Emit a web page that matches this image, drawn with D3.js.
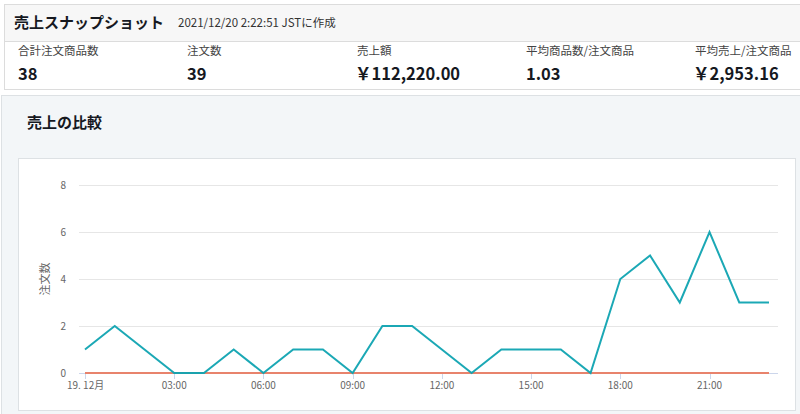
<!DOCTYPE html>
<html><head><meta charset="utf-8">
<script src="https://cdn.jsdelivr.net/npm/d3@7"></script>
<style>
body{margin:0;background:#fff;font-family:"Noto Sans CJK JP","Noto Sans",sans-serif;}
svg{display:block}
</style></head><body>
<svg id="c" width="800" height="414"></svg>
<script>
const title = "売上スナップショット";
const subtitle = "2021/12/20 2:22:51 JSTに作成";
const statLabels = ["合計注文商品数","注文数","売上額","平均商品数/注文商品","平均売上/注文商品"];
const statValues = ["38","39","￥112,220.00","1.03","￥2,953.16"];
const chartTitle = "売上の比較";
const yAxisTitle = "注文数";
const hours = d3.range(0,24);
const ordersToday = [1,2,1,0,0,1,0,1,1,0,2,2,1,0,1,1,1,0,4,5,3,6,3,3];
const ordersCompare = [0,0,0,0,0,0,0,0,0,0,0,0,0,0,0,0,0,0,0,0,0,0,0,0];
const yTicks = [0,2,4,6,8];
const xTickHours = [0,3,6,9,12,15,18,21];
const xTickLabels = ["19. 12月","03:00","06:00","09:00","12:00","15:00","18:00","21:00"];

const svg = d3.select("#c");
// top card
svg.append("rect").attr("x",4.5).attr("y",4.5).attr("width",800).attr("height",85).attr("fill","#fff").attr("stroke","#dcdcdc");
svg.append("rect").attr("x",5).attr("y",5).attr("width",800).attr("height",36).attr("fill","#f7f7f7");
svg.append("line").attr("x1",5).attr("x2",800).attr("y1",41.5).attr("y2",41.5).attr("stroke","#dcdcdc");
svg.append("text").attr("x",14).attr("y",28).attr("font-size",15).attr("font-weight","bold").attr("fill","#16191f").text(title);
svg.append("text").attr("x",178).attr("y",27).attr("font-size",11.5).attr("fill","#333").text(subtitle);
const colX = [18,187,357,526,695];
statLabels.forEach((l,i)=>{
  svg.append("text").attr("x",colX[i]).attr("y",55).attr("font-size",11.5).attr("fill","#444").text(l);
  svg.append("text").attr("x",colX[i] + (statValues[i].startsWith("￥")?-2:0)).attr("y",80).attr("font-size",16.5).attr("font-weight","bold").attr("fill","#16191f").text(statValues[i]);
});
// second panel
svg.append("rect").attr("x",1.5).attr("y",95.5).attr("width",800).attr("height",330).attr("fill","#f3f6f8").attr("stroke","#dde1e4");
svg.append("text").attr("x",27).attr("y",128).attr("font-size",15).attr("font-weight","bold").attr("fill","#16191f").text(chartTitle);
svg.append("rect").attr("x",18.5).attr("y",158.5).attr("width",777).attr("height",252).attr("fill","#fff").attr("stroke","#dde1e4");

const x = d3.scaleLinear().domain([0,23]).range([85,769]);
const y = d3.scaleLinear().domain([0,8]).range([373,185]);

// gridlines
svg.append("g").selectAll("line").data(yTicks).join("line")
  .attr("x1",79).attr("x2",778).attr("y1",d=>Math.round(y(d))+0.5).attr("y2",d=>Math.round(y(d))+0.5)
  .attr("stroke","#e6e6e6");
svg.append("g").selectAll("text").data(yTicks).join("text")
  .attr("x",66).attr("y",d=>y(d)+4).attr("text-anchor","end").attr("font-size",10).attr("fill","#666").text(d=>d);
// x axis line
svg.append("line").attr("x1",79).attr("x2",778).attr("y1",373.5).attr("y2",373.5).attr("stroke","#ccd6eb");
svg.append("g").selectAll("line").data(xTickHours).join("line")
  .attr("x1",d=>Math.round(x(d))+0.5).attr("x2",d=>Math.round(x(d))+0.5).attr("y1",373).attr("y2",379).attr("stroke","#ccd6eb");
svg.append("g").selectAll("text").data(xTickHours).join("text")
  .attr("x",d=>x(d)).attr("y",389).attr("text-anchor",(d,i)=>i===0?"start":"middle")
  .attr("dx",(d,i)=>i===0?-18:0)
  .attr("font-size",10).attr("fill","#666").text((d,i)=>xTickLabels[i]);
svg.append("text").attr("transform","translate(49,279) rotate(-90)").attr("text-anchor","middle")
  .attr("font-size",11).attr("fill","#666").text(yAxisTitle);

const line = d3.line().x((d,i)=>x(hours[i])).y(d=>y(d));
svg.append("path").datum(ordersCompare).attr("d",line).attr("fill","none").attr("stroke","#e8836c").attr("stroke-width",2);
svg.append("path").datum(ordersToday).attr("d",line).attr("fill","none").attr("stroke","#0fa3b1").attr("stroke-width",2).attr("stroke-opacity",0.95).attr("stroke-linejoin","miter");
</script>
</body></html>
